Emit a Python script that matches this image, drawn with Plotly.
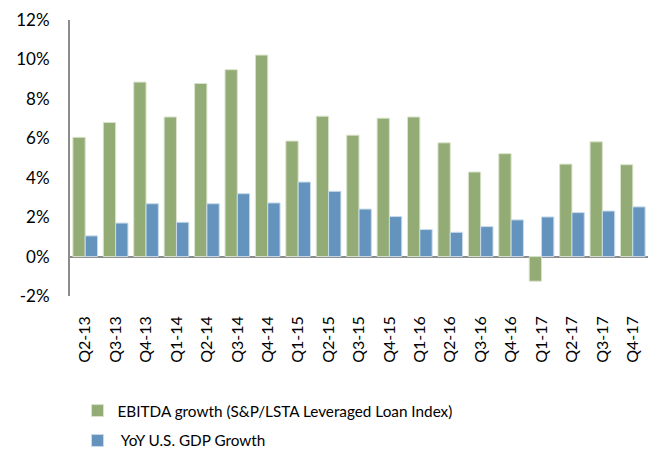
import plotly.graph_objects as go

categories = ["Q2-13", "Q3-13", "Q4-13", "Q1-14", "Q2-14", "Q3-14", "Q4-14",
              "Q1-15", "Q2-15", "Q3-15", "Q4-15", "Q1-16", "Q2-16", "Q3-16",
              "Q4-16", "Q1-17", "Q2-17", "Q3-17", "Q4-17"]
ebitda_growth = [6.05, 6.8, 8.85, 7.08, 8.78, 9.48, 10.22, 5.86, 7.12, 6.16,
                 7.02, 7.08, 5.77, 4.29, 5.22, -1.25, 4.69, 5.82, 4.66]
gdp_growth = [1.05, 1.7, 2.68, 1.74, 2.68, 3.19, 2.72, 3.78, 3.31, 2.41,
              2.03, 1.37, 1.23, 1.52, 1.86, 2.01, 2.23, 2.31, 2.52]
y_ticks = [-2, 0, 2, 4, 6, 8, 10, 12]

FONT = "Lato, 'Open Sans', sans-serif"

fig = go.Figure()
fig.add_trace(go.Bar(
    x=categories, y=ebitda_growth,
    name="EBITDA growth (S&P/LSTA Leveraged Loan Index)",
    legendgroup="a",
    marker=dict(color="#93AC76", line=dict(color="#D9E4CC", width=1)),
))
fig.add_trace(go.Bar(
    x=categories, y=gdp_growth,
    name=" YoY U.S. GDP Growth",
    legendgroup="b",
    marker=dict(color="#6494BE", line=dict(color="#C9DAEA", width=1)),
))

fig.update_layout(
    width=657, height=452,
    margin=dict(l=70, r=9, t=20, b=156, autoexpand=False),
    paper_bgcolor="white", plot_bgcolor="white",
    barmode="group", bargap=0.19, bargroupgap=0,
    font=dict(family=FONT, size=15, color="#000000"),
    showlegend=True,
    legend=dict(
        orientation="v", xref="container", x=0.118, xanchor="left",
        yref="container", y=0.128, yanchor="top",
        font=dict(family=FONT, size=15.3, color="#000000"),
        itemwidth=30, traceorder="grouped", tracegroupgap=7,
    ),
)
fig.update_xaxes(
    type="category", tickangle=-90, showgrid=False, ticks="",
    showline=False, zeroline=False, automargin=False,
    tickfont=dict(family=FONT, size=16), ticklabelstandoff=16,
)
fig.update_yaxes(
    range=[-2, 12], tickvals=y_ticks,
    ticktext=[f"{v}%" for v in y_ticks],
    showgrid=False, ticks="", showline=True, linecolor="#8C8C8C", linewidth=2,
    zeroline=True, zerolinecolor="#8C8C8C", zerolinewidth=2, automargin=False,
    tickfont=dict(family=FONT, size=17), ticklabelstandoff=15,
)

fig.write_html("out.html", config={"displayModeBar": False},
               post_script="document.body.style.margin='0';")
